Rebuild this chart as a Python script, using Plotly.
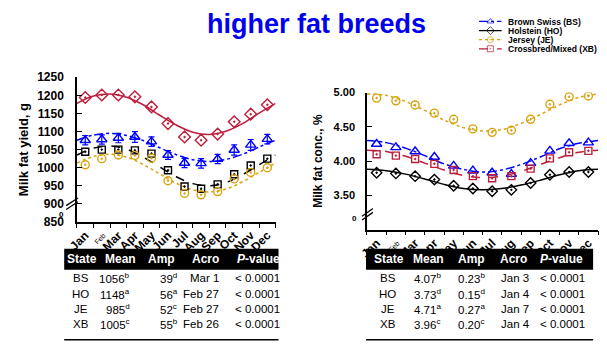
import plotly.graph_objects as go

# The page body keeps its default 8px margin, so the figure is sized to fit inside the window.
OX, OY = 8, 8
FW, FH = 607 - 2 * OX, 350 - 2 * OY

months = ["Jan", "Feb", "Mar", "Apr", "May", "Jun", "Jul", "Aug", "Sep", "Oct", "Nov", "Dec"]
month_pos = [0.5, 1.5, 2.5, 3.5, 4.5, 5.5, 6.5, 7.5, 8.5, 9.5, 10.5, 11.5]
curve_x = [0, 1, 2, 3, 4, 5, 6, 7, 8, 9, 10, 11, 12]

# ---- Milk fat yield (g), left panel ----
yield_BS = [1076, 1078, 1082, 1085, 1072, 1035, 1013, 1012, 1024, 1049, 1063, 1079]
yield_BS_err = [13, 13, 13, 15, 13, 12, 13, 13, 13, 14, 15, 13]
yield_HO = [1194, 1201, 1201, 1196, 1168, 1122, 1085, 1076, 1093, 1127, 1148, 1174]
yield_JE = [1008, 1025, 1035, 1034, 1026, 964, 929, 925, 934, 969, 987, 1000]
yield_XB = [1044, 1050, 1050, 1048, 1039, 993, 948, 942, 954, 982, 1006, 1025]

yield_fit_BS = [1076, 1090, 1095, 1089, 1075, 1055, 1036, 1022, 1017, 1023, 1037, 1057, 1076]
yield_fit_HO = [1178, 1198, 1204, 1195, 1174, 1145, 1118, 1098, 1092, 1101, 1122, 1151, 1178]
yield_fit_JE = [1013, 1031, 1037, 1029, 1009, 983, 957, 939, 933, 941, 961, 987, 1013]
yield_fit_XB = [1035, 1054, 1060, 1051, 1029, 1002, 975, 956, 950, 959, 981, 1008, 1035]

# ---- Milk fat concentration (%), right panel ----
conc_BS = [4.25, 4.20, 4.14, 4.06, 3.93, 3.86, 3.83, 3.81, 3.97, 4.15, 4.26, 4.27]
conc_HO = [3.83, 3.82, 3.78, 3.73, 3.64, 3.60, 3.56, 3.58, 3.68, 3.80, 3.84, 3.84]
conc_JE = [4.92, 4.88, 4.82, 4.70, 4.61, 4.47, 4.42, 4.45, 4.61, 4.83, 4.94, 4.95]
conc_XB = [4.10, 4.08, 4.03, 3.96, 3.87, 3.78, 3.75, 3.78, 3.89, 4.04, 4.13, 4.15]

conc_fit_BS = [4.30, 4.27, 4.19, 4.08, 3.96, 3.88, 3.84, 3.87, 3.95, 4.06, 4.18, 4.26, 4.30]
conc_fit_HO = [3.88, 3.86, 3.81, 3.74, 3.66, 3.60, 3.58, 3.60, 3.65, 3.72, 3.80, 3.86, 3.88]
conc_fit_JE = [4.98, 4.96, 4.87, 4.74, 4.60, 4.49, 4.44, 4.46, 4.55, 4.68, 4.82, 4.93, 4.98]
conc_fit_XB = [4.16, 4.14, 4.07, 3.97, 3.87, 3.79, 3.76, 3.78, 3.85, 3.95, 4.05, 4.13, 4.16]

yield_ticks = [850, 900, 950, 1000, 1050, 1100, 1150, 1200, 1250]
conc_ticks = [3.50, 4.00, 4.50, 5.00]

# ---- tables ----
states = ["BS", "HO", "JE", "XB"]
t1_mean = ["1056<sup>b</sup>", "1148<sup>a</sup>", "985<sup>d</sup>", "1005<sup>c</sup>"]
t1_amp = ["39<sup>d</sup>", "56<sup>a</sup>", "52<sup>c</sup>", "55<sup>b</sup>"]
t1_acro = ["Mar 1", "Feb 27", "Feb 27", "Feb 26"]
t2_mean = ["4.07<sup>b</sup>", "3.73<sup>d</sup>", "4.71<sup>a</sup>", "3.96<sup>c</sup>"]
t2_amp = ["0.23<sup>b</sup>", "0.15<sup>d</sup>", "0.27<sup>a</sup>", "0.20<sup>c</sup>"]
t2_acro = ["Jan 3", "Jan 4", "Jan 7", "Jan 4"]
pvals = ["< 0.0001", "< 0.0001", "< 0.0001", "< 0.0001"]
headers = ["State", "Mean", "Amp", "Acro", "<i>P</i>-value"]

legend_names = ["Brown Swiss (BS)", "Holstein (HO)", "Jersey (JE)", "Crossbred/Mixed (XB)"]

BLUE = "#0000FF"
BLACK = "#000000"
GOLD = "#D9A20F"
RED = "#BE1E3C"
FONT = "Liberation Sans, Arial, sans-serif"

def px(x):
    return (x - OX) / FW

def py(y):
    return 1 - (y - OY) / FH

fig = go.Figure()

def curve(x, y, color, dash, xa, ya):
    fig.add_trace(go.Scatter(x=x, y=y, mode="lines", line=dict(color=color, width=1.5, dash=dash, shape="spline"),
                             xaxis=xa, yaxis=ya, showlegend=False, hoverinfo="skip", cliponaxis=False))

def pts(x, y, color, symbol, xa, ya, err=None, size=8):
    fig.add_trace(go.Scatter(x=x, y=y, mode="markers",
                             marker=dict(symbol=symbol, size=size, color=color, line=dict(color=color, width=1.4)),
                             error_y=dict(type="data", array=err, color=color, thickness=1.2, width=3) if err else None,
                             xaxis=xa, yaxis=ya, showlegend=False))

# left panel
curve(curve_x, yield_fit_HO, RED, "solid", "x", "y")
curve(curve_x, yield_fit_BS, BLUE, "dashdot", "x", "y")
curve(curve_x, yield_fit_XB, BLACK, "dash", "x", "y")
curve(curve_x, yield_fit_JE, GOLD, "dot", "x", "y")
pts(month_pos, yield_HO, RED, "diamond-open-dot", "x", "y", size=9)
pts(month_pos, yield_BS, BLUE, "triangle-up-open", "x", "y", err=yield_BS_err, size=9)
pts(month_pos, yield_XB, BLACK, "square-open-dot", "x", "y", size=7)
pts(month_pos, yield_JE, GOLD, "circle-open-dot", "x", "y", size=8)

# right panel
curve(curve_x, conc_fit_JE, GOLD, "dot", "x2", "y2")
curve(curve_x, conc_fit_BS, BLUE, "dashdot", "x2", "y2")
curve(curve_x, conc_fit_XB, RED, "dash", "x2", "y2")
curve(curve_x, conc_fit_HO, BLACK, "solid", "x2", "y2")
pts(month_pos, conc_JE, GOLD, "circle-open-dot", "x2", "y2", size=8)
pts(month_pos, conc_BS, BLUE, "triangle-up-open", "x2", "y2", size=9)
pts(month_pos, conc_XB, RED, "square-open-dot", "x2", "y2", size=7)
pts(month_pos, conc_HO, BLACK, "diamond-open-dot", "x2", "y2", size=8)

# legend samples on a hidden axis pair
leg_colors = [BLUE, BLACK, GOLD, RED]
leg_dash = ["dashdot", "solid", "dot", "dash"]
leg_sym = ["triangle-up-open", "diamond-open-dot", "circle-open-dot", "square-open-dot"]
for i in range(4):
    fig.add_trace(go.Scatter(x=[0, 0.5, 1], y=[i, i, i], mode="lines+markers",
                             line=dict(color=leg_colors[i], width=1.2, dash=leg_dash[i]),
                             marker=dict(symbol=leg_sym[i], size=[0, 6, 0], color=leg_colors[i],
                                         line=dict(color=leg_colors[i], width=1)),
                             xaxis="x3", yaxis="y3", showlegend=False, hoverinfo="skip"))

tickfont = dict(family=FONT, size=12, color="black")
month_text = [("<b>%s</b>" % m) if m != "Feb" else "<span style='font-size:7px'>Feb</span>" for m in months]

xcommon = dict(range=[0, 12], tickvals=month_pos, ticktext=month_text, tickangle=-45,
               showline=True, linecolor="black", linewidth=1.5, showgrid=False, zeroline=False,
               ticks="", tickfont=dict(family=FONT, size=12, color="black"),
               minor=dict(tickvals=curve_x, ticks="outside", ticklen=4, tickcolor="black", tickwidth=1.2))

fig.update_layout(
    width=FW, height=FH, margin=dict(l=0, r=0, t=0, b=0),
    paper_bgcolor="white", plot_bgcolor="white", showlegend=False,
    xaxis=dict(domain=[px(68), px(270)], anchor="y", **xcommon),
    yaxis=dict(domain=[py(224), py(73)], anchor="x", range=[850, 1250], tickvals=yield_ticks,
               ticktext=["<b>%d</b>" % v for v in yield_ticks], tickfont=tickfont, ticklabelstandoff=9,
               showline=True, linecolor="black", linewidth=1.5, showgrid=False, zeroline=False,
               ticks="inside", ticklen=5, tickcolor="black", tickwidth=1.2,
               title=dict(text="<b>Milk fat yield, g</b>", font=dict(family=FONT, size=13, color="black"), standoff=6)),
    xaxis2=dict(domain=[px(363), px(598)], anchor="y2", **xcommon),
    yaxis2=dict(domain=[py(232), py(89)], anchor="x2", range=[3.0, 5.0], tickvals=conc_ticks,
                ticktext=["<b>%.2f</b>" % v for v in conc_ticks], tickfont=dict(family=FONT, size=11, color="black"),
                ticklabelstandoff=8,
                showline=True, linecolor="black", linewidth=1.5, showgrid=False, zeroline=False,
                ticks="inside", ticklen=5, tickcolor="black", tickwidth=1.2,
                title=dict(text="<b>Milk fat conc., %</b>", font=dict(family=FONT, size=12, color="black"), standoff=8)),
    xaxis3=dict(domain=[px(477), px(500)], anchor="y3", range=[0, 1], visible=False),
    yaxis3=dict(domain=[py(48), py(10)], anchor="x3", range=[3.5, -0.5], visible=False),
)

ann = []
ann.append(dict(text="<b>higher fat breeds</b>", x=px(312), y=py(17), xref="paper", yref="paper",
                showarrow=False, font=dict(family=FONT, size=27, color="#0000F0"), xanchor="center", yanchor="middle"))
for i, name in enumerate(legend_names):
    ann.append(dict(text="<b>%s</b>" % name, x=px(504), y=py(15 + i * 9.5), xref="paper", yref="paper",
                    showarrow=False, font=dict(family=FONT, size=8.5, color="black"), xanchor="left", yanchor="middle"))

shapes = []
# axis break marks
shapes.append(dict(type="line", xref="paper", yref="paper", x0=px(57), y0=py(207), x1=px(69), y1=py(199),
                   line=dict(color="black", width=1.3)))
shapes.append(dict(type="line", xref="paper", yref="paper", x0=px(57), y0=py(211), x1=px(69), y1=py(203),
                   line=dict(color="black", width=1.3)))
shapes.append(dict(type="line", xref="paper", yref="paper", x0=px(358), y0=py(218), x1=px(369), y1=py(210),
                   line=dict(color="black", width=1.3)))
shapes.append(dict(type="line", xref="paper", yref="paper", x0=px(358), y0=py(222), x1=px(369), y1=py(214),
                   line=dict(color="black", width=1.3)))
ann.append(dict(text="<b>0</b>", x=px(48), y=py(216), xref="paper", yref="paper", showarrow=False,
                font=dict(family=FONT, size=8, color="black")))
ann.append(dict(text="<b>0</b>", x=px(350), y=py(220), xref="paper", yref="paper", showarrow=False,
                font=dict(family=FONT, size=8, color="black")))

def table(x0, x1, head_x, cols, body_specs):
    shapes.append(dict(type="rect", xref="paper", yref="paper", x0=px(x0), x1=px(x1), y0=py(274), y1=py(252),
                       fillcolor="black", line=dict(width=0)))
    shapes.append(dict(type="line", xref="paper", yref="paper", x0=px(x0), x1=px(x1), y0=py(347), y1=py(347),
                       line=dict(color="black", width=1.5)))
    for h, hx in zip(headers, head_x):
        ann.append(dict(text="<b>%s</b>" % h, x=px(hx), y=py(263), xref="paper", yref="paper", showarrow=False,
                        font=dict(family=FONT, size=12, color="white"), xanchor="center", yanchor="middle"))
    for col, (cx, anchor) in zip(cols, body_specs):
        for r, txt in enumerate(col):
            ann.append(dict(text=txt, x=px(cx), y=py(283 + r * 16), xref="paper", yref="paper", showarrow=False,
                            font=dict(family=FONT, size=11.5, color="black"), xanchor=anchor, yanchor="middle"))

table(55, 273, [73, 112, 154, 199, 253],
      [states, t1_mean, t1_amp, t1_acro, pvals],
      [(72, "center"), (124, "right"), (150, "left"), (214, "right"), (252, "center")])
table(362, 593, [385, 426, 469, 512, 561],
      [states, t2_mean, t2_amp, t2_acro, pvals],
      [(384, "center"), (409, "left"), (454, "left"), (497, "left"), (562, "center")])

fig.update_layout(annotations=ann, shapes=shapes)
fig.write_html("out.html", config={"displayModeBar": False})
